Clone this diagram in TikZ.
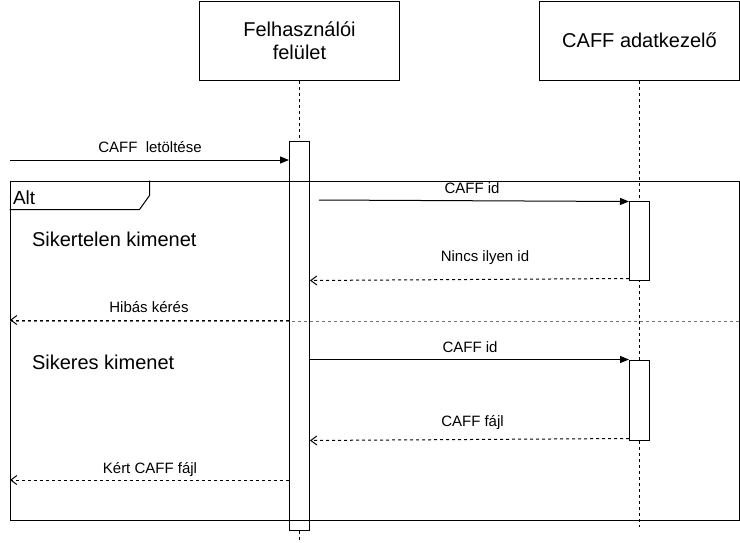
\documentclass[tikz,border=0pt]{standalone}
\usepackage{fontspec}
\setmainfont{Liberation Sans}
\usetikzlibrary{arrows.meta}
\begin{document}
\begin{tikzpicture}[x=1pt, y=-1pt, line width=1pt,
        lifebox/.style={draw, minimum width=200pt, minimum height=79pt, inner sep=0pt, align=center, font=\fontsize{20}{23.3}\selectfont},
        actbox/.style={draw, fill=white, minimum width=20pt, inner sep=0pt},
        lifeline/.style={dash pattern=on 3pt off 3pt},
        msg/.style={-{Triangle[length=9pt,width=7pt]}},
        ret/.style={dash pattern=on 3pt off 3pt, -{Straight Barb[length=6pt,width=9pt]}},
        msglabel/.style={anchor=base, inner sep=0pt, font=\fontsize{15}{18}\selectfont},
        biglabel/.style={anchor=base west, inner sep=0pt, font=\fontsize{20}{24}\selectfont}]
        \useasboundingbox (0,0) rectangle (740,542);
        % lifelines
        \node[lifebox] (ui) at (299.5,40.5) {Felhasználói\\felület};
        \node[lifebox] (caff) at (639.5,40.5) {CAFF adatkezelő};
        \coordinate (uiend) at (299.5,541);
        \coordinate (caffend) at (639.5,527);
        \draw[lifeline] (ui.south) -- (uiend);
        \draw[lifeline] (caff.south) -- (caffend);
        \node[actbox, minimum height=389pt] (uiact) at (299.5,335.5) {};
        \node[actbox, minimum height=79pt] (caffact1) at (639.5,240.5) {};
        \node[actbox, minimum height=80pt] (caffact2) at (639.5,400) {};
        % alt frame
        \node[draw, minimum width=729.5pt, minimum height=339pt, inner sep=0pt] (alt) at (374.75,350.5) {};
        \draw (alt.north west) ++(140,0) -- ++(0,15) -- ++(-10,14) -- ++(-130,0);
        \node[biglabel, font=\fontsize{19}{23}\selectfont] (altlabel) at (12.5,204) {Alt};
        \node[biglabel] (faillabel) at (31.5,246) {Sikertelen kimenet};
        \node[biglabel] (oklabel) at (31.5,369.5) {Sikeres kimenet};
        \coordinate (split) at (10,321);
        \draw[lifeline, black!55] (split) -- (split -| alt.east);
        % messages
        \coordinate (start) at (10,160);
        \draw[msg] (start) -- (start -| uiact.west);
        \node[msglabel] (downloadlabel) at (150,152) {CAFF\ \ letöltése};
        \coordinate (req1) at (319,200);
        \draw[msg] (req1) -- ([yshift=-1pt]caffact1.north west);
        \node[msglabel] (idlabel1) at (472,193) {CAFF id};
        \draw[ret] ([yshift=2pt]caffact1.south west) -- (uiact.east |- caffact1.south);
        \node[msglabel] (noidlabel) at (485,261) {Nincs ilyen id};
        \coordinate (fail) at (10,320);
        \draw[ret] (fail -| uiact.west) -- (fail);
        \node[msglabel] (badlabel) at (149,312.7) {Hibás kérés};
        \draw[msg] (uiact.east |- caffact2.north) -- (caffact2.north west);
        \node[msglabel] (idlabel2) at (470,352.5) {CAFF id};
        \draw[ret] ([yshift=2pt]caffact2.south west) -- (uiact.east |- caffact2.south);
        \node[msglabel] (filelabel) at (472.5,426) {CAFF fájl};
        \coordinate (answer) at (10,480);
        \draw[ret] (answer -| uiact.west) -- (answer);
        \node[msglabel] (answerlabel) at (150,473.3) {Kért CAFF fájl};
    \end{tikzpicture}
\end{document}
